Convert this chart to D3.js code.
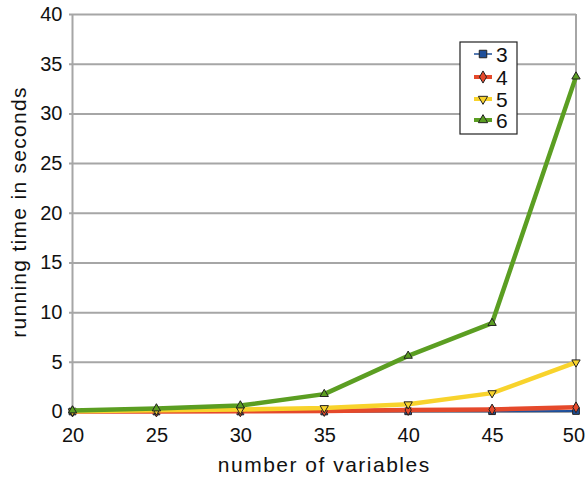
<!DOCTYPE html>
<html><head><meta charset="utf-8">
<script src="https://cdn.jsdelivr.net/npm/d3@7"></script>
<style>body{margin:0;background:#fff}text{font-family:"Liberation Sans",Arial,sans-serif;fill:#111}</style>
</head><body><svg id="c" width="586" height="477"></svg>
<script>
const variables = [20, 25, 30, 35, 40, 45, 50];
const yTicks = [0, 5, 10, 15, 20, 25, 30, 35, 40];
const seriesNames = ["3", "4", "5", "6"];
const time3 = [0, 0, 0, 0, 0.02, 0.03, 0.05];
const time4 = [0, 0, 0.02, 0.05, 0.15, 0.2, 0.42];
const time5 = [0.02, 0.12, 0.2, 0.35, 0.73, 1.85, 4.95];
const time6 = [0.1, 0.3, 0.6, 1.75, 5.6, 8.9, 33.7];
const seriesValues = [time3, time4, time5, time6];
const colors = ["#1f4f99", "#e5492b", "#f8d32c", "#5b9e22"];
const widths = [2, 4.5, 4.5, 4.5];
const symbols = [d3.symbolSquare, d3.symbolDiamond, d3.symbolTriangle, d3.symbolTriangle];
const flipped = [false, false, true, false];
const markerSize = [45, 34, 30, 30];

const W = 586;
const svg = d3.select("#c");
const L = 72.5, R = 576, T = 14, B = 411.5;
const x = d3.scaleLinear().domain([20, 50]).range([L, R]);
const y = d3.scaleLinear().domain([0, 40]).range([B, T]);

// horizontal gridlines + y axis
const ya = svg.append("g").attr("transform", `translate(${L},0)`)
  .call(d3.axisLeft(y).tickValues(yTicks).tickSize(-(R - L)).tickSizeOuter(0).tickPadding(8));
ya.select(".domain").remove();
ya.selectAll("line").attr("stroke", "#a6a6a6").attr("stroke-width", 2).attr("x1", -3.5);
ya.selectAll("text").style("font-size", "20px").attr("x", -10);

// x axis
const xa = svg.append("g").attr("transform", `translate(0,${B})`)
  .call(d3.axisBottom(x).tickValues(variables).tickSize(0).tickPadding(16));
xa.select(".domain").remove();
xa.selectAll("text").style("font-size", "20px");
// keep the last label inside the canvas
xa.selectAll(".tick").each(function () {
  const t = d3.select(this).select("text");
  const bb = this.getBBox();
  const m = new DOMMatrix(this.getAttribute("transform").replace(/translate\(([^,]+),([^)]+)\)/, "translate($1px,$2px)"));
  const right = m.e + bb.x + bb.width;
  if (right > W - 1) t.attr("dx", (W - 1 - right).toFixed(1));
});

// frame lines
svg.append("line").attr("x1", L).attr("x2", L).attr("y1", T).attr("y2", B).attr("stroke", "#a6a6a6").attr("stroke-width", 2);
svg.append("line").attr("x1", R).attr("x2", R).attr("y1", T).attr("y2", B).attr("stroke", "#a6a6a6").attr("stroke-width", 2);

const line = d3.line().x((d, j) => x(variables[j])).y(d => y(d));
seriesValues.forEach((vals, i) => {
  const g = svg.append("g");
  g.append("path").datum(vals).attr("d", line).attr("fill", "none")
    .attr("stroke", colors[i]).attr("stroke-width", widths[i]).attr("stroke-linejoin", "round");
  vals.forEach((v, j) => {
    const rot = flipped[i] ? " rotate(180)" : "";
    g.append("path").attr("d", d3.symbol(symbols[i], markerSize[i])())
      .attr("transform", `translate(${x(variables[j])},${y(v)})${rot}`)
      .attr("fill", colors[i]).attr("stroke", "#222").attr("stroke-width", 1);
  });
});

// legend
const lg = svg.append("g");
lg.append("rect").attr("x", 460).attr("y", 42).attr("width", 57).attr("height", 92)
  .attr("fill", "#fff").attr("stroke", "#222").attr("stroke-width", 1.2);
const ly = [54, 77, 99, 120];
seriesNames.forEach((n, i) => {
  lg.append("line").attr("x1", 474).attr("x2", 492).attr("y1", ly[i]).attr("y2", ly[i])
    .attr("stroke", colors[i]).attr("stroke-width", i === 0 ? 1.5 : 4);
  const rot = flipped[i] ? " rotate(180)" : "";
  lg.append("path").attr("d", d3.symbol(symbols[i], markerSize[i] * 1.25)())
    .attr("transform", `translate(483,${ly[i]})${rot}`)
    .attr("fill", colors[i]).attr("stroke", "#222").attr("stroke-width", 1);
  lg.append("text").attr("x", 496).attr("y", ly[i] + 7.5).style("font-size", "21px").text(n);
});

// axis titles
svg.append("text").attr("x", (L + R) / 2).attr("y", 471.5).attr("text-anchor", "middle")
  .style("font-size", "21px").style("letter-spacing", "1.5px").text("number of variables");
svg.append("text").attr("transform", `translate(26,212) rotate(-90)`).attr("text-anchor", "middle")
  .style("font-size", "21px").style("letter-spacing", "1.3px").text("running time in seconds");
</script></body></html>
